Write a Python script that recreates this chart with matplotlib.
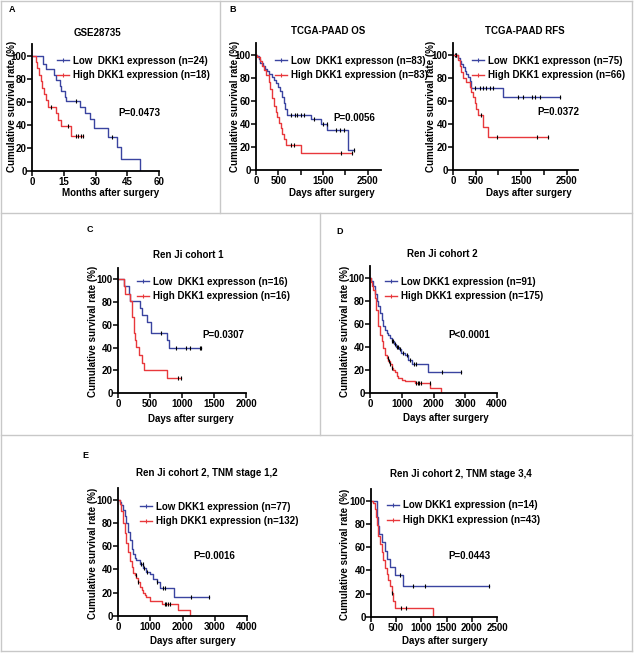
import numpy as np
import matplotlib
matplotlib.use("Agg")
import matplotlib.pyplot as plt
from matplotlib.lines import Line2D

plt.rcParams['font.family'] = ['Liberation Sans', 'DejaVu Sans']
plt.rcParams['font.weight'] = 'bold'
plt.rcParams['font.size'] = 7

W, H = 634, 653
BLUE = '#3a44a0'
RED = '#e8383c'
FS = 7

# ---- data (survival %, step after each time) ----
# A  GSE28735 (months)
a_low_t = [0, 5.2, 6.8, 10.2, 11.2, 13.1, 13.5, 15.4, 16.2, 22.5, 24.9, 27.2, 29.3, 35.9, 40.3, 41.9, 51.2]
a_low_s = [100, 93, 88, 83.4, 79, 73.8, 69.5, 64.5, 60.2, 55.2, 50, 45, 36.9, 29.7, 20.9, 10.2, 0]
a_low_c = [21, 38]
a_high_t = [0, 1.7, 2.5, 3.3, 4.1, 4.9, 5.7, 6.8, 7.7, 11.5, 12.3, 13.5, 18.6]
a_high_s = [100, 94.4, 88.9, 83.3, 77.8, 72.2, 66.7, 61.1, 55.6, 50, 44.4, 38.9, 30]
a_high_c = [9, 17, 20.6, 21.6, 23.3, 24]

# B  TCGA-PAAD OS (days)
b1_low_t = [0, 30, 60, 100, 150, 200, 250, 300, 350, 400, 450, 500, 540, 580, 620, 660, 700, 1240, 1450, 1600, 2050]
b1_low_s = [100, 98.8, 96.4, 92.7, 90.2, 87.8, 85.4, 82.9, 80.5, 78, 75.6, 72, 68, 63, 58, 53, 48, 44, 39.5, 34.5, 17]
b1_low_c = [776, 866, 925, 1000, 1075, 1300, 1507, 1582, 1784, 1880, 1970, 2194]
b1_high_t = [0, 30, 80, 130, 180, 230, 280, 320, 360, 400, 440, 480, 515, 550, 590, 630, 665, 1000]
b1_high_s = [100, 97.6, 94, 90.4, 86.7, 81.9, 75.9, 69.9, 62.6, 55.4, 50.6, 45.8, 41, 36.1, 31.3, 26.5, 21.7, 14.5]
b1_high_c = [780, 860, 1900, 2157]

# B  TCGA-PAAD RFS (days)
b2_low_t = [0, 110, 150, 185, 220, 257, 295, 330, 370, 400, 1100]
b2_low_s = [100, 97.3, 94.5, 91.8, 89, 86.1, 83.2, 80.2, 77.2, 71.2, 63]
b2_low_c = [37, 74, 480, 590, 660, 735, 810, 880, 1430, 1540, 1730, 1800, 1910, 2350]
b2_high_t = [0, 110, 147, 185, 220, 295, 370, 405, 440, 480, 515, 550, 660, 770]
b2_high_s = [100, 95, 90, 84.5, 80, 76, 72, 67.5, 63, 58, 53, 47.5, 37.5, 28.5]
b2_high_c = [75, 625, 960, 1840, 2100]

# C  Ren Ji cohort 1 (days)
c_low_t = [0, 90, 170, 185, 350, 375, 455, 508, 770, 795]
c_low_s = [100, 93.8, 87.5, 81.3, 75, 68.8, 62.5, 52.5, 46.6, 39.4]
c_low_c = [665, 900, 1057, 1120, 1277, 1290]
c_high_t = [0, 90, 115, 194, 220, 245, 260, 280, 335, 377, 403, 770]
c_high_s = [100, 93.8, 87.5, 80.6, 67, 53, 46.6, 40.8, 33.5, 26, 20, 13]
c_high_c = [940, 980]

# D  Ren Ji cohort 2 (days)
d_low_t = [0, 40, 100, 160, 220, 260, 310, 370, 420, 470, 530, 580, 630, 690, 760, 830, 900, 990, 1100, 1210, 1310, 1830]
d_low_s = [100, 97, 93, 86, 80, 75, 69, 63, 58, 55, 52, 50, 47.5, 45, 42.5, 40, 38, 35, 33, 29, 25, 18]
d_low_c = [700, 740, 800, 850, 880, 950, 1050, 1150, 1250, 1400, 1450, 2280, 2880]
d_high_t = [0, 30, 70, 105, 150, 200, 262, 320, 366, 420, 471, 520, 576, 630, 680, 730, 785, 840, 890, 995, 1100, 1414, 1885, 2250]
d_high_s = [100, 96, 93, 89, 82, 72, 58, 50, 45, 39, 33, 30, 28, 25, 22, 20, 18, 15, 13, 11, 10, 8.5, 4, 0]
d_high_c = [560, 600, 640, 700, 1450, 1500, 1550, 1600, 1880]

# E  Ren Ji cohort 2, TNM stage 1,2 (days)
e1_low_t = [0, 50, 104, 156, 210, 260, 310, 364, 420, 468, 520, 571, 675, 779, 883, 987, 1090, 1195, 1300, 1745]
e1_low_s = [100, 98, 95, 91, 86, 80, 72, 65, 58, 53, 50, 48, 45, 41, 38, 36, 32, 29, 24, 16]
e1_low_c = [700, 760, 820, 900, 1200, 1400, 1450, 2270, 2810]
e1_high_t = [0, 50, 104, 156, 210, 260, 310, 364, 420, 468, 520, 571, 620, 675, 730, 779, 830, 883, 987, 1350, 1870, 2234]
e1_high_s = [100, 96, 90, 80, 71, 63, 55, 47, 42, 37, 35, 33, 29, 25, 22, 20, 18, 16, 13, 10.5, 5, 0]
e1_high_c = [570, 620, 1450, 1500, 1560, 1620]

# E  Ren Ji cohort 2, TNM stage 3,4 (days)
e2_low_t = [0, 113, 125, 140, 160, 212, 278, 312, 378, 477, 643]
e2_low_s = [100, 92.9, 85.7, 78.6, 71.4, 64.3, 57.1, 50, 42.9, 35.7, 26.8]
e2_low_c = [580, 840, 1080, 2334]
e2_high_t = [0, 46, 80, 100, 120, 146, 180, 212, 245, 278, 312, 345, 378, 411, 444, 477, 1240]
e2_high_s = [100, 97.7, 93, 86, 79, 70, 63, 56, 49, 42, 37, 32, 27, 21, 14, 8, 0]
e2_high_c = [425, 590, 700]


fig = plt.figure(figsize=(W / 100, H / 100), dpi=100)


def fx(x):
    return x / W


def fy(y):
    return 1 - y / H


def make_ax(x0, x1, y0, y1):
    return fig.add_axes([fx(x0), fy(y1), (x1 - x0) / W, (y1 - y0) / H])


def km(ax, t, s, cens, color):
    end = max(t[-1], max(cens) if cens else t[-1])
    if s[-1] == 0:
        end = t[-1]
    tt = list(t) + [end]
    ss = list(s) + [s[-1]]
    ax.step(tt, ss, where='post', color=color, lw=1.0)
    lev = [s[np.searchsorted(t, c, side='right') - 1] for c in cens]
    ax.plot(cens, lev, ls='none', marker='|', ms=3, mew=0.8, color='black')


def style(ax, xmax, xticks, xlabels, xlabel, xlab_pos, ylab_x):
    ax.set_xlim(0, xmax)
    ax.set_ylim(0, 110)
    ax.set_yticks([0, 20, 40, 60, 80, 100])
    ax.set_xticks(xticks)
    ax.set_xticklabels(xlabels)
    for sp in ['top', 'right']:
        ax.spines[sp].set_visible(False)
    for sp in ['left', 'bottom']:
        ax.spines[sp].set_linewidth(1.3)
    ax.tick_params(length=3.5, width=1.1, pad=0.8, labelsize=FS)
    ax.tick_params(axis='y', pad=0.4)
    ax.set_xlabel(xlabel, fontsize=FS, fontweight='bold')
    ax.set_ylabel('Cumulative survival rate (%)', fontsize=FS, fontweight='bold')
    # label positions in figure pixels
    ax.xaxis.set_label_coords(xlab_pos[0], xlab_pos[1], transform=fig.transFigure)
    ax.yaxis.set_label_coords(fx(ylab_x[0]), fy(ylab_x[1]), transform=fig.transFigure)


def legend(ax, labels, x, y):
    hs = [Line2D([], [], color=BLUE, lw=1.0, marker='|', ms=3, mew=0.8),
          Line2D([], [], color=RED, lw=1.0, marker='|', ms=3, mew=0.8)]
    ax.legend(hs, labels, loc='upper left', bbox_to_anchor=(fx(x), fy(y)),
              bbox_transform=fig.transFigure, frameon=False, borderpad=0,
              borderaxespad=0, handlelength=1.2, handletextpad=0.4,
              labelspacing=0.5, numpoints=1, prop={'size': FS, 'weight': 'bold'})


days4 = [0, 1000, 2000, 3000, 4000]
panels = [
    dict(box=(32, 159, 44, 171), low=(a_low_t, a_low_s, a_low_c), high=(a_high_t, a_high_s, a_high_c),
         xmax=60, xt=[0, 15, 30, 45, 60], xl=['0', '15', '30', '45', '60'], xlab='Months after surgery',
         xlabpos=(111, 193), ylab=(12, 106), title='GSE28735', tpos=(97, 33),
         leg=['Low  DKK1 expresson (n=24)', 'High DKK1 expression (n=18)'], lpos=(57, 55.5),
         p='P=0.0473', ppos=(118, 113)),
    dict(box=(256, 381, 43, 170), low=(b1_low_t, b1_low_s, b1_low_c), high=(b1_high_t, b1_high_s, b1_high_c),
         xmax=2800, xt=[0, 500, 1000, 1500, 2000, 2500], xl=['0', '500', '', '1500', '', '2500'],
         xlab='Days after surgery', xlabpos=(332, 193), ylab=(235, 106), title='TCGA-PAAD OS', tpos=(328, 31),
         leg=['Low  DKK1 expresson (n=83)', 'High DKK1 expression (n=83)'], lpos=(275, 55.5),
         p='P=0.0056', ppos=(333, 118)),
    dict(box=(453, 578, 43, 170), low=(b2_low_t, b2_low_s, b2_low_c), high=(b2_high_t, b2_high_s, b2_high_c),
         xmax=2750, xt=[0, 500, 1000, 1500, 2000, 2500], xl=['0', '500', '', '1500', '', '2500'],
         xlab='Days after surgery', xlabpos=(529, 193), ylab=(431, 106), title='TCGA-PAAD RFS', tpos=(525, 31),
         leg=['Low  DKK1 expresson (n=75)', 'High DKK1 expression (n=66)'], lpos=(472, 55.5),
         p='P=0.0372', ppos=(537, 112)),
    dict(box=(118, 246, 268, 393), low=(c_low_t, c_low_s, c_low_c), high=(c_high_t, c_high_s, c_high_c),
         xmax=2000, xt=[0, 500, 1000, 1500, 2000], xl=['0', '500', '1000', '1500', '2000'],
         xlab='Days after surgery', xlabpos=(191, 419), ylab=(93, 331), title='Ren Ji cohort 1', tpos=(188, 255),
         leg=['Low  DKK1 expresson (n=16)', 'High DKK1 expression (n=16)'], lpos=(137, 276.5),
         p='P=0.0307', ppos=(202, 335)),
    dict(box=(370, 497, 266, 393), low=(d_low_t, d_low_s, d_low_c), high=(d_high_t, d_high_s, d_high_c),
         xmax=4000, xt=days4, xl=[str(v) for v in days4],
         xlab='Days after surgery', xlabpos=(446, 418), ylab=(345, 331), title='Ren Ji cohort 2', tpos=(442, 254),
         leg=['Low DKK1 expression (n=91)', 'High DKK1 expression (n=175)'], lpos=(385, 276.5),
         p='P<0.0001', ppos=(448, 335)),
    dict(box=(118, 247, 488, 616), low=(e1_low_t, e1_low_s, e1_low_c), high=(e1_high_t, e1_high_s, e1_high_c),
         xmax=4000, xt=days4, xl=[str(v) for v in days4],
         xlab='Days after surgery', xlabpos=(193, 641), ylab=(93, 553), title='Ren Ji cohort 2, TNM stage 1,2',
         tpos=(207, 473), leg=['Low DKK1 expression (n=77)', 'High DKK1 expression (n=132)'], lpos=(140, 501.5),
         p='P=0.0016', ppos=(193, 556)),
    dict(box=(371, 497, 489, 617), low=(e2_low_t, e2_low_s, e2_low_c), high=(e2_high_t, e2_high_s, e2_high_c),
         xmax=2500, xt=[0, 500, 1000, 1500, 2000, 2500], xl=['0', '500', '1000', '1500', '2000', '2500'],
         xlab='Days after surgery', xlabpos=(445, 641), ylab=(345, 554), title='Ren Ji cohort 2, TNM stage 3,4',
         tpos=(461, 474), leg=['Low DKK1 expression (n=14)', 'High DKK1 expression (n=43)'], lpos=(387, 500.5),
         p='P=0.0443', ppos=(448, 556)),
]

for p in panels:
    ax = make_ax(*p['box'])
    km(ax, *p['low'], BLUE)
    km(ax, *p['high'], RED)
    style(ax, p['xmax'], p['xt'], p['xl'], p['xlab'], (fx(p['xlabpos'][0]), fy(p['xlabpos'][1])), p['ylab'])
    ax.xaxis.label.set_va('center')
    ax.yaxis.label.set_va('center')
    legend(ax, p['leg'], *p['lpos'])
    fig.text(fx(p['tpos'][0]), fy(p['tpos'][1]), p['title'], ha='center', va='center', fontsize=FS, fontweight='bold')
    fig.text(fx(p['ppos'][0]), fy(p['ppos'][1]), p['p'], ha='left', va='center', fontsize=FS, fontweight='bold')

# panel letters
for letter, x, y in [('A', 12, 10), ('B', 233, 10), ('C', 90, 230), ('D', 340, 231), ('E', 85, 455)]:
    fig.text(fx(x), fy(y), letter, ha='center', va='center', fontsize=6.5, fontweight='bold')

# gray frame lines between panels
frame = [((1, 1), (632, 1)), ((1, 651), (632, 651)), ((1, 1), (1, 651)), ((632, 1), (632, 651)),
         ((1, 213), (632, 213)), ((1, 435), (632, 435)), ((220, 1), (220, 213)), ((320, 213), (320, 435))]
for (x0, y0), (x1, y1) in frame:
    fig.add_artist(Line2D([fx(x0), fx(x1)], [fy(y0), fy(y1)], color='#c8c8c8', lw=1,
                          transform=fig.transFigure))

fig.savefig('out.png', dpi=100)
